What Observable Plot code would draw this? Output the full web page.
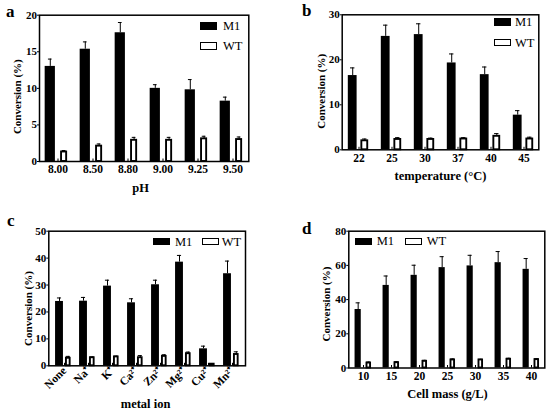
<!DOCTYPE html>
<html>
<head>
<meta charset="utf-8">
<script src="https://cdn.jsdelivr.net/npm/d3@7"></script>
<script src="https://cdn.jsdelivr.net/npm/@observablehq/plot@0.6"></script>
<style>
  body { margin: 0; background: #fff; }
  #wrap { position: relative; width: 550px; height: 412px; font-family: "Liberation Serif", serif; }
  .panel { position: absolute; }
  .letter { position: absolute; font-family: "Liberation Serif", serif; font-weight: bold; font-size: 17px; line-height: 1; }
  .sw { position: absolute; box-sizing: border-box; }
  .lt { position: absolute; font-family: "Liberation Serif", serif; font-size: 12.5px; line-height: 1; transform: translateY(-50%); }
</style>
</head>
<body>
<div id="wrap"></div>
<script>
// ---- Data ----
const pHCats = ["8.00", "8.50", "8.80", "9.00", "9.25", "9.50"];
const pH_M1 = [13.0, 15.35, 17.6, 10.0, 9.8, 8.25];
const pH_M1_err = [1.0, 1.0, 1.4, 0.5, 1.4, 0.55];
const pH_WT = [1.3, 2.1, 2.9, 2.9, 3.1, 3.0];
const pH_WT_err = [0.2, 0.3, 0.4, 0.4, 0.35, 0.35];

const tempCats = ["22", "25", "30", "37", "40", "45"];
const temp_M1 = [16.5, 25.2, 25.6, 19.3, 16.7, 7.7];
const temp_M1_err = [1.7, 2.5, 2.4, 2.0, 1.7, 1.0];
const temp_WT = [2.0, 2.3, 2.3, 2.4, 3.0, 2.4];
const temp_WT_err = [0.4, 0.4, 0.3, 0.3, 0.6, 0.4];

const metalCats = ["None", "Na⁺", "K⁺", "Ca²⁺", "Zn²⁺", "Mg²⁺", "Cu²⁺", "Mn²⁺"];
const metal_M1 = [23.9, 24.0, 29.6, 23.4, 30.1, 38.5, 6.3, 34.2];
const metal_M1_err = [1.3, 1.4, 2.2, 1.5, 1.7, 2.5, 1.0, 4.7];
const metal_WT = [2.8, 3.0, 3.3, 3.0, 3.5, 4.5, 0.6, 4.2];
const metal_WT_err = [0.7, 0.3, 0.3, 0.8, 0.6, 0.6, 0.1, 1.0];

const massCats = ["10", "15", "20", "25", "30", "35", "40"];
const mass_M1 = [34.2, 48.3, 54.2, 58.7, 59.7, 61.6, 57.7];
const mass_M1_err = [3.9, 5.5, 5.9, 6.4, 6.2, 6.5, 6.3];
const mass_WT = [2.9, 3.1, 3.9, 4.7, 4.7, 5.1, 4.9];
const mass_WT_err = [0.6, 0.6, 0.6, 0.6, 0.4, 0.6, 0.6];

const seriesNames = ["M1", "WT"];
const yLabel = "Conversion (%)";

// ---- Layout ----
const W = 275, H = 206;
const wrap = document.getElementById("wrap");

function panel(cfg) {
  const n = cfg.cats.length;
  const frameW = W - cfg.ml - cfg.mr;
  const frameH = H - cfg.mt - cfg.mb;
  const step = (frameW - cfg.iL - cfg.iR) / n;
  const rows = cfg.cats.map((c, i) => ({c, m: cfg.m1[i], me: cfg.m1e[i], w: cfg.wt[i], we: cfg.wte[i]}));
  const [a0, a1, b0, b1] = cfg.frac;
  const cm = (a0 + a1) / 2, cw = (b0 + b1) / 2;
  const cap = 2.3;
  const font = {fontFamily: "Liberation Serif", fontWeight: "bold"};
  const chart = Plot.plot({
    width: W, height: H,
    marginLeft: cfg.ml, marginRight: cfg.mr, marginTop: cfg.mt, marginBottom: cfg.mb,
    style: {fontFamily: "Liberation Serif", fontSize: "11px", background: "white", overflow: "visible"},
    x: {type: "band", domain: cfg.cats, padding: 0, insetLeft: cfg.iL, insetRight: cfg.iR, axis: null},
    y: {domain: cfg.ydomain, axis: null},
    marks: [
      // M1 bars
      Plot.barY(rows, {x: "c", y: "m", fill: "black", insetLeft: a0 * step, insetRight: (1 - a1) * step}),
      Plot.ruleX(rows, {x: "c", y1: "m", y2: d => d.m + d.me, dx: (cm - 0.5) * step, stroke: "black", strokeWidth: 1}),
      Plot.tickY(rows, {x: "c", y: d => d.m + d.me, insetLeft: cm * step - cap, insetRight: (1 - cm) * step - cap, stroke: "black", strokeWidth: 1}),
      // WT bars
      Plot.ruleX(rows, {x: "c", y1: "w", y2: d => d.w + d.we, dx: (cw - 0.5) * step, stroke: "black", strokeWidth: 1}),
      Plot.tickY(rows, {x: "c", y: d => d.w + d.we, insetLeft: cw * step - cap, insetRight: (1 - cw) * step - cap, stroke: "black", strokeWidth: 1}),
      Plot.barY(rows, {x: "c", y: "w", fill: "white", stroke: "black", strokeWidth: 1.9, insetLeft: b0 * step + 0.95, insetRight: (1 - b1) * step + 0.95}),
      // small inward ticks at group centres
      Plot.tickX(cfg.cats, {x: d => d, insetTop: frameH - 2.5, stroke: "black", strokeWidth: 1}),
      // axes
      Plot.axisY({ticks: cfg.yticks, tickSize: 2, tickPadding: 0.5, tickFormat: d => String(d), ...font, fontSize: 11, label: null}),
      cfg.rotate
        ? Plot.axisX({tickSize: 0, tickRotate: -45, tickPadding: cfg.xpad, ...font, fontSize: 11.5, label: null})
        : Plot.axisX({tickSize: 0, tickPadding: cfg.xpad, ...font, fontSize: 11.5, label: null}),
      Plot.frame({stroke: "black", strokeWidth: 1.5}),
      // axis titles
      Plot.text([yLabel], {text: d => d, frameAnchor: "left", textAnchor: "middle", lineAnchor: "middle", dx: cfg.ylx, dy: cfg.yly, rotate: -90, ...font, fontSize: cfg.ylfs}),
      Plot.text([cfg.xlabel], {text: d => d, frameAnchor: "bottom", textAnchor: "middle", lineAnchor: "middle", dx: cfg.xlx, dy: cfg.xly, ...font, fontSize: 12.5})
    ]
  });
  const holder = document.createElement("div");
  holder.className = "panel";
  holder.style.left = cfg.left + "px";
  holder.style.top = cfg.top + "px";
  holder.appendChild(chart);
  wrap.appendChild(holder);

  // letter
  const L = document.createElement("div");
  L.className = "letter";
  L.textContent = cfg.letter;
  L.style.left = cfg.letterPos[0] + "px";
  L.style.top = cfg.letterPos[1] + "px";
  wrap.appendChild(L);

  // legend
  cfg.legend.forEach((it, i) => {
    const s = document.createElement("div");
    s.className = "sw";
    s.style.left = it.x + "px"; s.style.top = (it.y - 3.6) + "px";
    s.style.width = "17px"; s.style.height = "7.4px";
    if (i === 0) { s.style.background = "black"; }
    else { s.style.background = "white"; s.style.border = "1.8px solid black"; }
    wrap.appendChild(s);
    const t = document.createElement("div");
    t.className = "lt";
    t.textContent = seriesNames[i];
    t.style.left = (it.x + it.tx) + "px"; t.style.top = it.y + "px";
    wrap.appendChild(t);
  });
}

panel({
  left: 0, top: 0, letter: "a", letterPos: [6, 3],
  cats: pHCats, m1: pH_M1, m1e: pH_M1_err, wt: pH_WT, wte: pH_WT_err,
  ml: 39, mr: 26.7, mt: 14.7, mb: 45, iL: -1.45, iR: -4.6,
  frac: [0.13, 0.44, 0.56, 0.78], ydomain: [0, 20], yticks: [0, 5, 10, 15, 20],
  ylx: -22.3, yly: 8.3, ylfs: 11, xlabel: "pH", xlx: -3.6, xly: 26, xpad: 3,
  legend: [{x: 200, y: 26, tx: 23}, {x: 200, y: 46, tx: 23}]
});
panel({
  left: 275, top: 0, letter: "b", letterPos: [302, 2],
  cats: tempCats, m1: temp_M1, m1e: temp_M1_err, wt: temp_WT, wte: temp_WT_err,
  ml: 66.7, mr: 11.7, mt: 14.3, mb: 56.7, iL: -0.8, iR: -1.8,
  frac: [0.175, 0.446, 0.554, 0.795], ydomain: [0, 30], yticks: [0, 10, 20, 30],
  ylx: -21, yly: 9, ylfs: 11, xlabel: "temperature (°C)", xlx: 0, xly: 25.7, xpad: 4,
  legend: [{x: 494, y: 22, tx: 21}, {x: 494, y: 42.5, tx: 21}]
});
panel({
  left: 0, top: 206, letter: "c", letterPos: [7, 212],
  cats: metalCats, m1: metal_M1, m1e: metal_M1_err, wt: metal_WT, wte: metal_WT_err,
  ml: 48.3, mr: 30, mt: 24.7, mb: 46.7, iL: 1.95, iR: -1.25,
  frac: [0.125, 0.467, 0.53, 0.78], ydomain: [0, 50], yticks: [0, 10, 20, 30, 40, 50],
  ylx: -20, yly: 10, ylfs: 11, xlabel: "metal ion", xlx: -1.6, xly: 37.7, xpad: 3, rotate: true,
  legend: [{x: 153, y: 241.5, tx: 22}, {x: 202.3, y: 241.5, tx: 19.5}]
});
panel({
  left: 275, top: 206, letter: "d", letterPos: [302, 220],
  cats: massCats, m1: mass_M1, m1e: mass_M1_err, wt: mass_WT, wte: mass_WT_err,
  ml: 73.3, mr: 5.7, mt: 24.7, mb: 44.5, iL: -1.55, iR: -1.95,
  frac: [0.195, 0.43, 0.58, 0.79], ydomain: [0, 80], yticks: [0, 20, 40, 60, 80],
  ylx: -22, yly: 4.5, ylfs: 11, xlabel: "Cell mass (g/L)", xlx: 0.7, xly: 25.5, xpad: 4,
  legend: [{x: 355, y: 241.3, tx: 21.7}, {x: 405, y: 241.3, tx: 21.7}]
});
</script>
</body>
</html>
